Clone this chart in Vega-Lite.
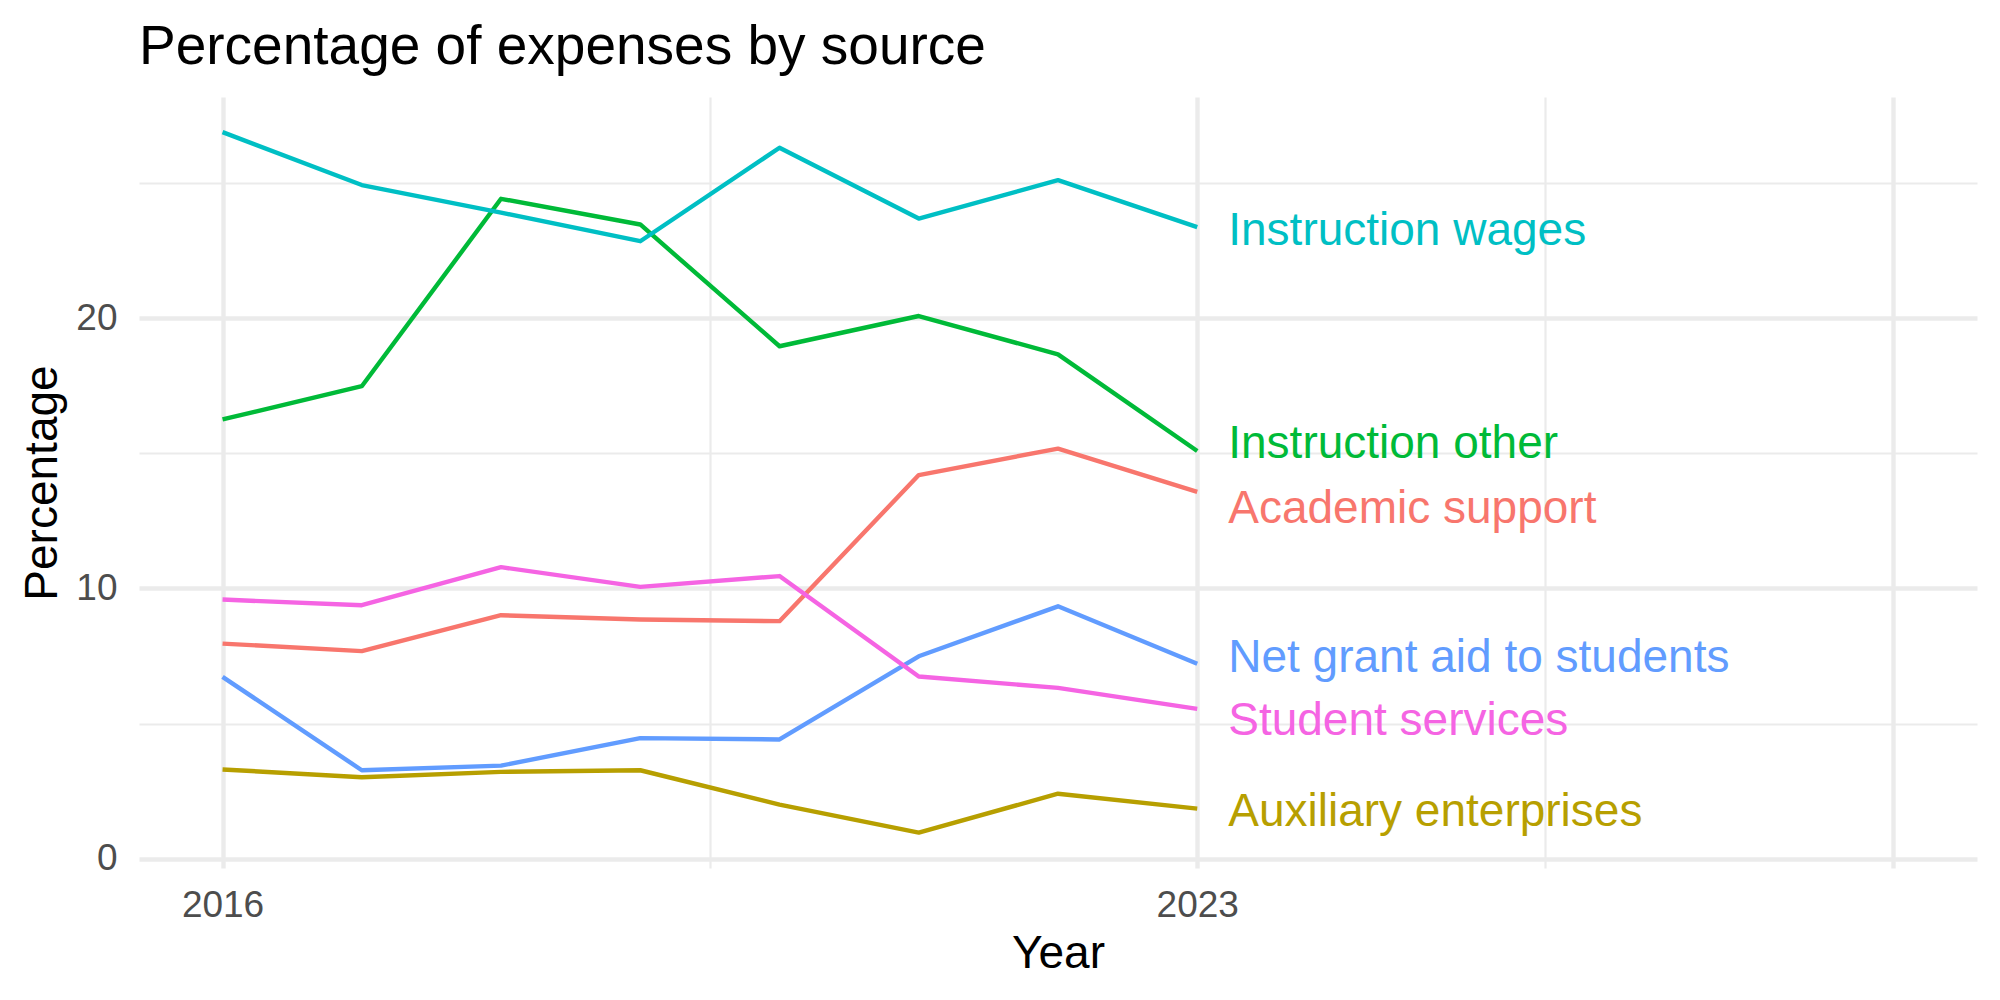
{
  "$schema": "https://vega.github.io/schema/vega-lite/v6.json",
  "autosize": "none",
  "width": 1838,
  "height": 771,
  "padding": {"left": 139, "top": 97, "right": 23, "bottom": 132},
  "background": "white",
  "title": {
    "text": "Percentage of expenses by source",
    "anchor": "start",
    "frame": "group",
    "font": "Liberation Sans",
    "fontSize": 55,
    "fontWeight": "normal",
    "color": "#000000",
    "baseline": "alphabetic",
    "offset": 34,
    "dy": 56
  },
  "config": {
    "view": {"stroke": null},
    "axis": {
      "domain": false,
      "ticks": false,
      "gridColor": "#EBEBEB",
      "labelFont": "Liberation Sans",
      "labelFontSize": 37,
      "labelColor": "#4D4D4D",
      "titleFont": "Liberation Sans",
      "titleFontSize": 46,
      "titleFontWeight": "normal",
      "titleColor": "#000000"
    }
  },
  "datasets": {
    "series": [
      {"year": 2016, "category": "Academic support", "value": 7.96},
      {"year": 2017, "category": "Academic support", "value": 7.68},
      {"year": 2018, "category": "Academic support", "value": 9.01},
      {"year": 2019, "category": "Academic support", "value": 8.85},
      {"year": 2020, "category": "Academic support", "value": 8.79},
      {"year": 2021, "category": "Academic support", "value": 14.2},
      {"year": 2022, "category": "Academic support", "value": 15.18},
      {"year": 2023, "category": "Academic support", "value": 13.58},
      {"year": 2016, "category": "Auxiliary enterprises", "value": 3.3},
      {"year": 2017, "category": "Auxiliary enterprises", "value": 3.01},
      {"year": 2018, "category": "Auxiliary enterprises", "value": 3.21},
      {"year": 2019, "category": "Auxiliary enterprises", "value": 3.27},
      {"year": 2020, "category": "Auxiliary enterprises", "value": 2.0},
      {"year": 2021, "category": "Auxiliary enterprises", "value": 0.96},
      {"year": 2022, "category": "Auxiliary enterprises", "value": 2.4},
      {"year": 2023, "category": "Auxiliary enterprises", "value": 1.85},
      {"year": 2016, "category": "Instruction other", "value": 16.26},
      {"year": 2017, "category": "Instruction other", "value": 17.49},
      {"year": 2018, "category": "Instruction other", "value": 24.43},
      {"year": 2019, "category": "Instruction other", "value": 23.48},
      {"year": 2020, "category": "Instruction other", "value": 18.97},
      {"year": 2021, "category": "Instruction other", "value": 20.09},
      {"year": 2022, "category": "Instruction other", "value": 18.67},
      {"year": 2023, "category": "Instruction other", "value": 15.09},
      {"year": 2016, "category": "Instruction wages", "value": 26.9},
      {"year": 2017, "category": "Instruction wages", "value": 24.94},
      {"year": 2018, "category": "Instruction wages", "value": 23.92},
      {"year": 2019, "category": "Instruction wages", "value": 22.86},
      {"year": 2020, "category": "Instruction wages", "value": 26.32},
      {"year": 2021, "category": "Instruction wages", "value": 23.7},
      {"year": 2022, "category": "Instruction wages", "value": 25.12},
      {"year": 2023, "category": "Instruction wages", "value": 23.38},
      {"year": 2016, "category": "Net grant aid to students", "value": 6.73},
      {"year": 2017, "category": "Net grant aid to students", "value": 3.27},
      {"year": 2018, "category": "Net grant aid to students", "value": 3.44},
      {"year": 2019, "category": "Net grant aid to students", "value": 4.46},
      {"year": 2020, "category": "Net grant aid to students", "value": 4.41},
      {"year": 2021, "category": "Net grant aid to students", "value": 7.49},
      {"year": 2022, "category": "Net grant aid to students", "value": 9.34},
      {"year": 2023, "category": "Net grant aid to students", "value": 7.21},
      {"year": 2016, "category": "Student services", "value": 9.59},
      {"year": 2017, "category": "Student services", "value": 9.38},
      {"year": 2018, "category": "Student services", "value": 10.79},
      {"year": 2019, "category": "Student services", "value": 10.06},
      {"year": 2020, "category": "Student services", "value": 10.46},
      {"year": 2021, "category": "Student services", "value": 6.74},
      {"year": 2022, "category": "Student services", "value": 6.32},
      {"year": 2023, "category": "Student services", "value": 5.54}
    ],
    "labels": [
      {"year": 2023, "category": "Academic support", "label_y": 12.96},
      {"year": 2023, "category": "Auxiliary enterprises", "label_y": 1.73},
      {"year": 2023, "category": "Instruction other", "label_y": 15.36},
      {"year": 2023, "category": "Instruction wages", "label_y": 23.23},
      {"year": 2023, "category": "Net grant aid to students", "label_y": 7.44},
      {"year": 2023, "category": "Student services", "label_y": 5.1}
    ]
  },
  "resolve": {"axis": {"x": "independent", "y": "independent"}},
  "layer": [
    {
      "data": {"name": "series"},
      "mark": {"type": "line", "strokeWidth": 4.4, "strokeCap": "butt", "strokeJoin": "round"},
      "encoding": {
        "x": {
          "field": "year",
          "type": "quantitative",
          "scale": {"domain": [2015.4, 2028.6], "nice": false, "zero": false},
          "axis": {
            "values": [2016, 2023, 2028],
            "format": "d",
            "labelExpr": "datum.value == 2028 ? '' : datum.label",
            "grid": true,
            "gridWidth": 4.4,
            "labelPadding": 19,
            "labelFlush": false,
            "labelOverlap": false,
            "title": "Year",
            "titleBaseline": "alphabetic",
            "titleAlign": "center",
            "titleX": 919,
            "titleY": 99
          }
        },
        "y": {
          "field": "value",
          "type": "quantitative",
          "scale": {"domain": [-0.35, 28.2], "nice": false, "zero": false},
          "axis": {
            "values": [0, 10, 20],
            "grid": true,
            "gridWidth": 4.4,
            "labelPadding": 22,
            "labelBaseline": "middle",
            "labelFlush": false,
            "labelOverlap": false,
            "title": "Percentage",
            "titleBaseline": "alphabetic",
            "titleAngle": -90,
            "titleAlign": "center",
            "titleX": -83,
            "titleY": 385.5
          }
        },
        "color": {
          "field": "category",
          "type": "nominal",
          "scale": {
            "domain": ["Academic support", "Auxiliary enterprises", "Instruction other", "Instruction wages", "Net grant aid to students", "Student services"],
            "range": ["#F8766D", "#B79F00", "#00BA38", "#00BFC4", "#619CFF", "#F564E3"]
          },
          "legend": null
        },
        "detail": {"field": "category"}
      }
    },
    {
      "data": {"name": "labels"},
      "mark": {"type": "text", "align": "left", "baseline": "middle", "dx": 31, "font": "Liberation Sans", "fontSize": 46},
      "encoding": {
        "x": {
          "field": "year",
          "type": "quantitative",
          "scale": {"domain": [2015.4, 2028.6], "nice": false, "zero": false},
          "axis": {
            "values": [2019.5, 2025.5],
            "grid": true,
            "gridWidth": 2.2,
            "labels": false,
            "title": null
          }
        },
        "y": {
          "field": "label_y",
          "type": "quantitative",
          "scale": {"domain": [-0.35, 28.2], "nice": false, "zero": false},
          "axis": {
            "values": [5, 15, 25],
            "grid": true,
            "gridWidth": 2.2,
            "labels": false,
            "title": null
          }
        },
        "text": {"field": "category", "type": "nominal"},
        "color": {
          "field": "category",
          "type": "nominal",
          "scale": {
            "domain": ["Academic support", "Auxiliary enterprises", "Instruction other", "Instruction wages", "Net grant aid to students", "Student services"],
            "range": ["#F8766D", "#B79F00", "#00BA38", "#00BFC4", "#619CFF", "#F564E3"]
          },
          "legend": null
        }
      }
    }
  ]
}
